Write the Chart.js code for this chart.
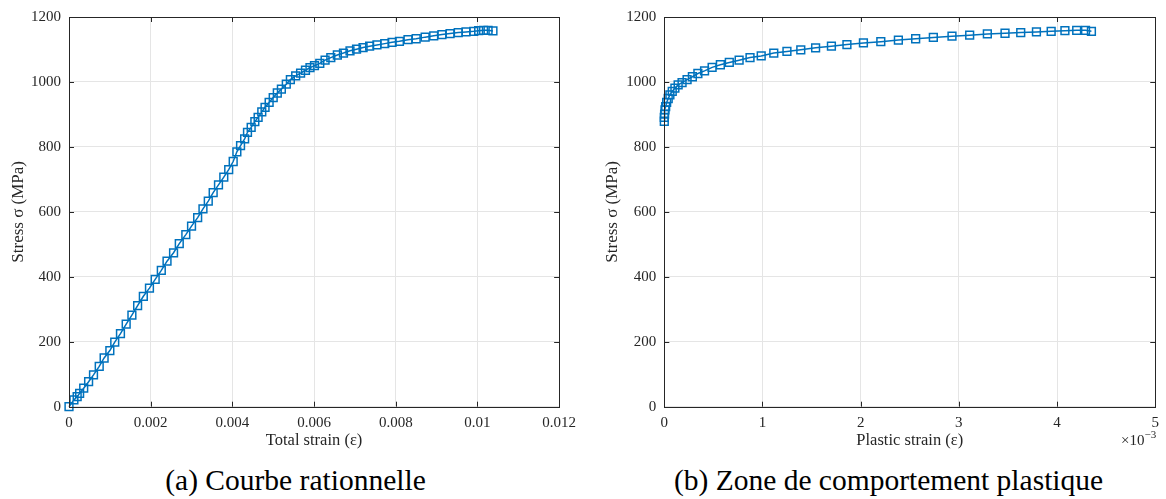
<!DOCTYPE html>
<html>
<head>
<script src="https://cdn.jsdelivr.net/npm/chart.js"></script>
<style>
    body { margin: 0; background: #fff; width: 1166px; height: 499px; position: relative; overflow: hidden; font-family: "Liberation Serif", serif; }
    .panel { position: absolute; top: 0; width: 583px; height: 460px; }
    .caption { position: absolute; top: 463px; width: 583px; font-size: 29.5px; line-height: 34px; color: #000; text-align: center; white-space: nowrap; }
</style>
<title>Stress strain</title>
</head>
<body>
<div class="panel" style="left:0"><canvas id="leftChart" width="583" height="460"></canvas></div>
<div class="panel" style="left:583px"><canvas id="rightChart" width="583" height="460"></canvas></div>
<div class="caption" style="left:4px">(a) Courbe rationnelle</div>
<div class="caption" style="left:597px">(b) Zone de comportement plastique</div>

<script>
// total strain / stress (MPa), read from (a)
const totalStrain = [0, 0.00012, 0.0002, 0.00026, 0.00036, 0.00048, 0.0006, 0.00074, 0.00086, 0.001,
    0.00112, 0.00126, 0.0014, 0.00154, 0.00168, 0.00182, 0.00197, 0.00211, 0.00226, 0.0024,
    0.00256, 0.0027, 0.00286, 0.003, 0.00315, 0.00328, 0.00341, 0.00353, 0.00366, 0.00379,
    0.00391, 0.00402, 0.00411, 0.0042, 0.0043, 0.00437, 0.00446, 0.00455, 0.00463, 0.00472,
    0.0048, 0.0049, 0.005, 0.0051, 0.0052, 0.00532, 0.00542, 0.00555, 0.00567, 0.00579,
    0.0059, 0.00601, 0.00614, 0.00627, 0.00641, 0.00657, 0.00672, 0.00688, 0.00704, 0.0072,
    0.00736, 0.00754, 0.00773, 0.00791, 0.00809, 0.0083, 0.0085, 0.00872, 0.00893, 0.00913,
    0.00933, 0.00953, 0.00972, 0.00991, 0.01003, 0.01015, 0.01026, 0.01038];
const totalStress = [0, 21, 31, 41, 57, 77, 98, 124, 150, 173,
    199, 225, 254, 282, 311, 340, 365, 392, 420, 448,
    474, 502, 530, 556, 582, 609, 633, 659, 683, 707,
    730, 755, 785, 804, 825, 845, 860, 878, 891, 908,
    922, 937, 952, 966, 978, 993, 1007, 1019, 1027, 1036,
    1044, 1050, 1057, 1067, 1075, 1083, 1089, 1096, 1101, 1106,
    1110, 1114, 1118, 1122, 1125, 1130, 1133, 1138, 1142, 1146,
    1149, 1152, 1154, 1156, 1158, 1159, 1159, 1157];

// plastic strain (x 10^-3) / stress (MPa), read from (b)
const plasticStrain = [0, 0, 0.003, 0.007, 0.014, 0.024, 0.04, 0.057, 0.081, 0.108,
    0.141, 0.181, 0.232, 0.286, 0.342, 0.41, 0.487, 0.571, 0.662, 0.762,
    0.873, 0.987, 1.115, 1.249, 1.39, 1.541, 1.702, 1.86, 2.028, 2.205,
    2.384, 2.56, 2.74, 2.93, 3.11, 3.29, 3.47, 3.63, 3.79, 3.94,
    4.08, 4.2, 4.29, 4.35];
const plasticStress = [879, 891, 901, 914, 924, 937, 949, 960, 971, 981,
    991, 998, 1007, 1016, 1026, 1034, 1045, 1053, 1060, 1067,
    1075, 1080, 1089, 1094, 1099, 1105, 1110, 1115, 1120, 1124,
    1129, 1133, 1137, 1141, 1144, 1148, 1150, 1152, 1154, 1156,
    1158, 1159, 1159, 1156];

const blue = '#0072BD';
const axisColor = '#262626';
const fontFamily = '"Liberation Serif", "Times New Roman", serif';

// box around the axes with inward ticks, like matlab
const boxPlugin = {
    id: 'box',
    afterDraw(chart, args, opts) {
        const {ctx, chartArea: a, scales: {x, y}} = chart;
        ctx.save();
        ctx.strokeStyle = axisColor;
        ctx.lineWidth = 1;
        ctx.strokeRect(Math.round(a.left) + 0.5, Math.round(a.top) + 0.5, Math.round(a.right - a.left), Math.round(a.bottom - a.top));
        ctx.beginPath();
        x.ticks.forEach(t => {
            const px = Math.round(x.getPixelForValue(t.value)) + 0.5;
            ctx.moveTo(px, a.bottom); ctx.lineTo(px, a.bottom - 5);
            ctx.moveTo(px, a.top); ctx.lineTo(px, a.top + 5);
        });
        y.ticks.forEach(t => {
            const py = Math.round(y.getPixelForValue(t.value)) + 0.5;
            ctx.moveTo(a.left, py); ctx.lineTo(a.left + 5, py);
            ctx.moveTo(a.right, py); ctx.lineTo(a.right - 5, py);
        });
        ctx.stroke();
        if (opts.exponent) {
            ctx.fillStyle = axisColor;
            ctx.textBaseline = 'alphabetic';
            const base = '\u00d710';
            ctx.font = '11px ' + fontFamily;
            const supW = ctx.measureText(opts.exponent).width;
            ctx.font = '15px ' + fontFamily;
            const baseW = ctx.measureText(base).width;
            const xEnd = a.right + 1;
            ctx.fillText(base, xEnd - supW - baseW, 445);
            ctx.font = '11px ' + fontFamily;
            ctx.fillText(opts.exponent, xEnd - supW, 438);
        }
        ctx.restore();
    }
};

function makeChart(id, xs, ys, cfg) {
    const points = xs.map((v, i) => ({x: v, y: ys[i]}));
    return new Chart(document.getElementById(id), {
        type: 'scatter',
        plugins: [boxPlugin],
        data: {
            datasets: [{
                data: points,
                showLine: true,
                borderColor: blue,
                borderWidth: 1.5,
                pointStyle: 'rect',
                pointRadius: 5.5,
                pointBorderWidth: 1.5,
                pointBorderColor: blue,
                pointBackgroundColor: 'rgba(0,0,0,0)',
                pointHoverRadius: 5.5,
                clip: 10
            }]
        },
        options: {
            responsive: false,
            animation: false,
            events: [],
            layout: {padding: {left: 0, top: 16, right: cfg.padRight, bottom: 0}},
            plugins: {
                legend: {display: false},
                tooltip: {enabled: false},
                box: {exponent: cfg.exponent}
            },
            scales: {
                x: {
                    type: 'linear',
                    min: cfg.xMin, max: cfg.xMax,
                    afterFit: s => { s.height = 53.3; },
                    grid: {color: '#e5e5e5', drawTicks: false},
                    border: {display: false},
                    ticks: {
                        stepSize: cfg.xStep,
                        padding: 7,
                        color: axisColor,
                        font: {family: fontFamily, size: 15},
                        maxRotation: 0,
                        callback: cfg.xFormat
                    },
                    title: {
                        display: true,
                        text: cfg.xTitle,
                        color: axisColor,
                        font: {family: fontFamily, size: 16.5},
                        padding: {top: 0, bottom: 9}
                    }
                },
                y: {
                    type: 'linear',
                    min: 0, max: 1200,
                    afterFit: s => { s.width = cfg.yWidth; },
                    grid: {color: '#e5e5e5', drawTicks: false},
                    border: {display: false},
                    ticks: {
                        stepSize: 200,
                        padding: 8,
                        color: axisColor,
                        font: {family: fontFamily, size: 15},
                        callback: v => String(v)
                    },
                    title: {
                        display: true,
                        text: 'Stress \u03c3 (MPa)',
                        color: axisColor,
                        font: {family: fontFamily, size: 17},
                        padding: {top: cfg.yTitlePad, bottom: 0}
                    }
                }
            }
        }
    });
}

makeChart('leftChart', totalStrain, totalStress, {
    xMin: 0, xMax: 0.012, xStep: 0.002,
    xFormat: v => String(+v.toFixed(3)),
    xTitle: 'Total strain (\u03b5)',
    yWidth: 69, yTitlePad: 8, padRight: 18
});

makeChart('rightChart', plasticStrain, plasticStress, {
    xMin: 0, xMax: 5, xStep: 1,
    xFormat: v => String(+v.toFixed(0)),
    xTitle: 'Plastic strain (\u03b5)',
    yWidth: 81.3, yTitlePad: 19, padRight: 6.7,
    exponent: '\u22123'
});
</script>
</body>
</html>
